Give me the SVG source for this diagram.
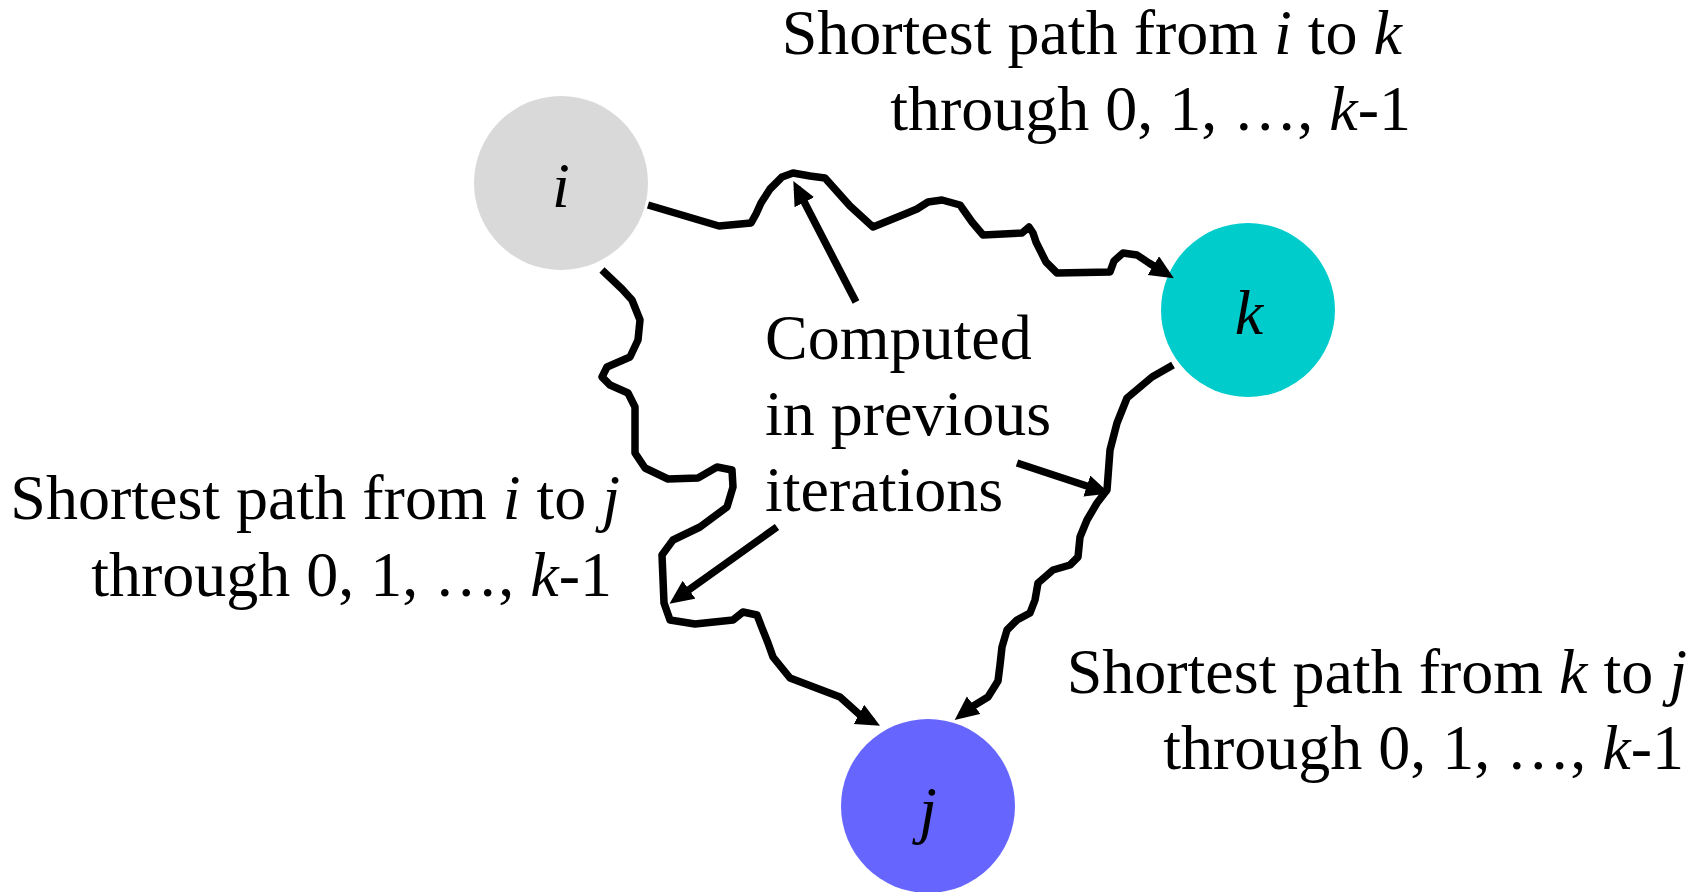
<svg xmlns="http://www.w3.org/2000/svg" width="1704" height="892" viewBox="0 0 1704 892">
  <style>
    .txt { font-family: "Liberation Serif", "Times New Roman", serif; font-size: 64px; fill: #000; }
    .it { font-style: italic; }
    .wire { fill: none; stroke: #000; stroke-width: 7.5; stroke-linejoin: round; stroke-linecap: butt; }
  </style>
  <defs>
    <marker id="ah" markerUnits="userSpaceOnUse" markerWidth="26" markerHeight="24" refX="16" refY="11" orient="auto">
      <path d="M0,0 L24,11 L0,22 z" fill="#000"/>
    </marker>
  </defs>

  <rect width="1704" height="892" fill="#fff"/>

  <!-- vertices -->
  <g id="node-i">
    <circle cx="561" cy="183" r="87" fill="#D9D9D9"/>
    <text class="txt it" x="561" y="207" text-anchor="middle">i</text>
  </g>
  <g id="node-k">
    <circle cx="1248" cy="310" r="87" fill="#00CCCC"/>
    <text class="txt it" x="1249" y="334" text-anchor="middle">k</text>
  </g>
  <g id="node-j">
    <circle cx="928" cy="806" r="87" fill="#6666FF"/>
    <text class="txt it" x="928" y="831" text-anchor="middle">j</text>
  </g>

  <!-- wiggly shortest paths and pointer arrows -->
  <g id="connectors">
    <path id="path-i-k" class="wire" marker-end="url(#ah)"
      d="M648,205 L719,226 L751,223 L756,214 L761,203 L770,189 L782,177 L793,173 L810,176 L825,178 L850,206 L873,227 L905,214 L917,209 L928,202 L942,200 L960,205 L972,222 L983,235 L1022,233 L1029,227 L1033,233 L1036,242 L1046,262 L1057,273 L1110,272 L1114,261 L1123,253 L1137,255 L1149,263 L1167,274"/>
    <path id="path-i-j" class="wire" marker-end="url(#ah)"
      d="M602,270 L622,289 L632,300 L640,320 L638,340 L630,357 L607,367 L602,377 L610,385 L628,393 L635,407 L635,453 L645,468 L668,479 L698,478 L717,467 L732,470 L733,487 L727,507 L700,527 L673,540 L662,555 L664,603 L670,620 L695,624 L733,620 L743,612 L757,615 L762,628 L768,643 L773,657 L790,678 L840,697 L860,715 L873,722"/>
    <path id="path-k-j" class="wire" marker-end="url(#ah)"
      d="M1173,365 L1152,377 L1127,398 L1117,423 L1110,450 L1107,490 L1097,503 L1087,520 L1080,537 L1078,557 L1070,565 L1053,570 L1038,583 L1035,600 L1030,613 L1017,620 L1007,630 L1002,647 L1000,665 L998,681 L988,697 L970,708 L961,715"/>
    <path id="ptr-ik" class="wire" marker-end="url(#ah)" d="M856,302 L797,188"/>
    <path id="ptr-ij" class="wire" marker-end="url(#ah)" d="M777,527 L676,599"/>
    <path id="ptr-kj" class="wire" marker-end="url(#ah)" d="M1017,463 L1102,491"/>
  </g>

  <!-- captions -->
  <g id="label-ik">
    <text class="txt" x="1402" y="54" text-anchor="end">Shortest path from <tspan class="it">i</tspan> to <tspan class="it">k</tspan></text>
    <text class="txt" x="1411" y="130" text-anchor="end">through 0, 1, …, <tspan class="it">k</tspan>-1</text>
  </g>
  <g id="label-ij">
    <text class="txt" x="620" y="519" text-anchor="end">Shortest path from <tspan class="it">i</tspan> to <tspan class="it">j</tspan></text>
    <text class="txt" x="612" y="596" text-anchor="end">through 0, 1, …, <tspan class="it">k</tspan>-1</text>
  </g>
  <g id="label-kj">
    <text class="txt" x="1687" y="693" text-anchor="end">Shortest path from <tspan class="it">k</tspan> to <tspan class="it">j</tspan></text>
    <text class="txt" x="1684" y="769" text-anchor="end">through 0, 1, …, <tspan class="it">k</tspan>-1</text>
  </g>
  <g id="label-computed">
    <text class="txt" x="765" y="359">Computed</text>
    <text class="txt" x="765" y="435">in previous</text>
    <text class="txt" x="765" y="511">iterations</text>
  </g>
</svg>
